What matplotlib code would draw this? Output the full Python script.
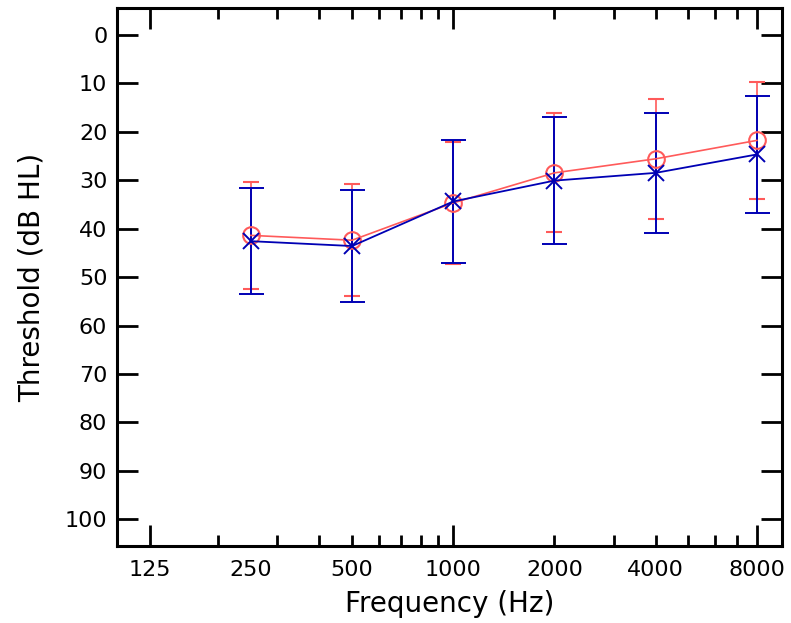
import matplotlib
matplotlib.use("Agg")
import matplotlib.pyplot as plt

freqs = [250, 500, 1000, 2000, 4000, 8000]

red_mean = [41.4, 42.4, 34.7, 28.5, 25.6, 21.8]
red_err = [11.0, 11.6, 12.6, 12.3, 12.4, 12.1]

blue_mean = [42.6, 43.6, 34.4, 30.1, 28.5, 24.7]
blue_err = [11.0, 11.6, 12.7, 13.1, 12.4, 12.1]

label_freqs = [125, 250, 500, 1000, 2000, 4000, 8000]
minor_freqs = [200, 300, 400, 600, 700, 800, 900, 3000, 5000, 6000, 7000]
long_ticks = [125, 1000, 8000]
short_ticks = [500, 2000, 4000]

red = "#ff5a5a"
blue = "#0000b4"

fig = plt.figure(figsize=(7.91, 6.23), dpi=100)
ax = fig.add_axes([0.148, 0.1236, 0.8406, 0.8634])

ax.errorbar(freqs, red_mean, yerr=red_err, color=red, lw=1.2, elinewidth=1.2,
            capsize=6, capthick=1.2, marker="o", ms=12, mfc="none", mec=red, mew=1.5)
ax.errorbar(freqs, blue_mean, yerr=blue_err, color=blue, lw=1.3, elinewidth=1.4,
            capsize=9, capthick=1.6, marker="x", ms=11, mec=blue, mew=1.4)

ax.set_xscale("log")
ax.set_xlim(100, 9500)
ax.set_ylim(105.5, -5.5)

ax.set_xticks(label_freqs)
ax.set_xticklabels([str(f) for f in label_freqs])
ax.set_xticks(minor_freqs, minor=True)
ax.set_yticks(range(0, 101, 10))

ax.tick_params(which="both", direction="in", top=True, right=True,
               width=2, labelsize=16)
ax.tick_params(axis="x", which="major", length=15, pad=10)
ax.tick_params(axis="x", which="minor", length=8)
ax.tick_params(axis="y", which="major", length=15, pad=7)

for f, tick in zip(label_freqs, ax.xaxis.get_major_ticks()):
    if f in long_ticks:
        size = 15
    elif f in short_ticks:
        size = 8
    else:
        size = 0
    tick.tick1line.set_markersize(size)
    tick.tick2line.set_markersize(size)

for s in ax.spines.values():
    s.set_linewidth(2.2)

ax.set_xlabel("Frequency (Hz)", fontsize=20, labelpad=7)
ax.set_ylabel("Threshold (dB HL)", fontsize=20, labelpad=14)

fig.savefig("out.png", dpi=100)
